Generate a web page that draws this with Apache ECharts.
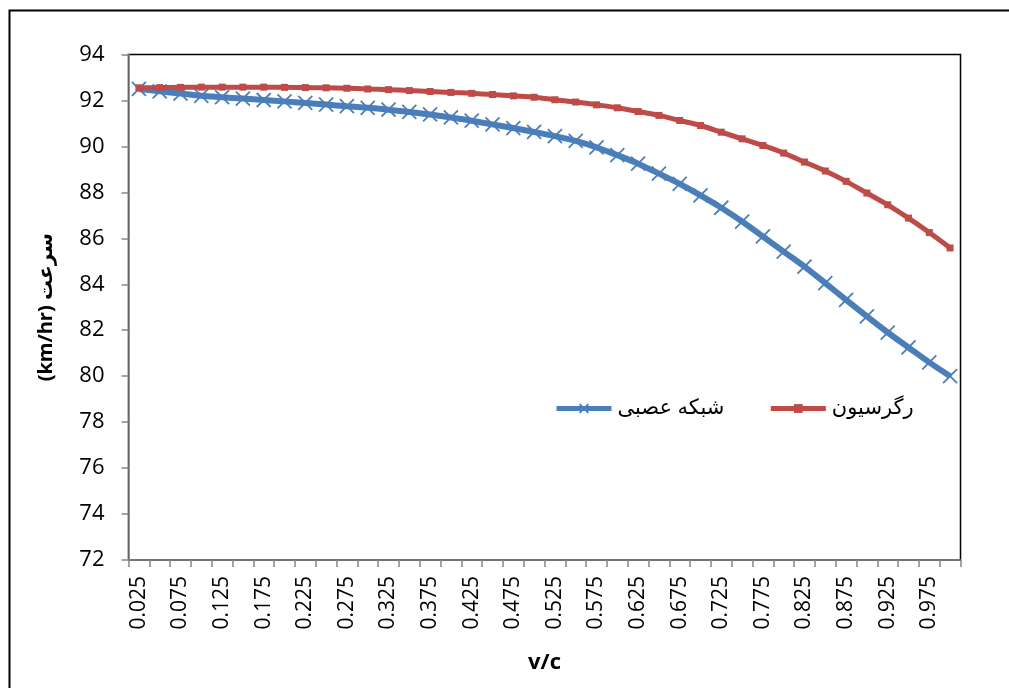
<!DOCTYPE html>
<html>
<head>
<meta charset="utf-8">
<script src="https://cdn.jsdelivr.net/npm/echarts@6/dist/echarts.min.js"></script>
<style>html,body{margin:0;padding:0;background:#fff}#c{width:1009px;height:688px}</style>
</head>
<body>
<div id="c"></div>
<script>
const categories = ['0.025','0.05','0.075','0.1','0.125','0.15','0.175','0.2','0.225','0.25','0.275','0.3','0.325','0.35','0.375','0.4','0.425','0.45','0.475','0.5','0.525','0.55','0.575','0.6','0.625','0.65','0.675','0.7','0.725','0.75','0.775','0.8','0.825','0.85','0.875','0.9','0.925','0.95','0.975','1'];
const neuralNet = [92.5,92.4,92.3,92.2,92.14,92.08,92.02,91.96,91.89,91.82,91.75,91.68,91.6,91.5,91.39,91.26,91.12,90.96,90.8,90.63,90.45,90.24,89.96,89.62,89.25,88.82,88.37,87.87,87.33,86.73,86.08,85.42,84.77,84.05,83.32,82.6,81.9,81.25,80.6,80.0];
const regression = [92.55,92.56,92.57,92.58,92.58,92.58,92.58,92.57,92.56,92.55,92.53,92.5,92.47,92.43,92.39,92.35,92.31,92.26,92.2,92.14,92.03,91.93,91.81,91.68,91.52,91.35,91.13,90.91,90.62,90.33,90.04,89.71,89.32,88.93,88.48,87.97,87.46,86.88,86.25,85.58];
const seriesNames = ['شبکه عصبی','رگرسیون'];
const yMin = 72, yMax = 94, yStep = 2;

const FONT = '"Open Sans", "DejaVu Sans", sans-serif';
const chart = echarts.init(document.getElementById('c'), null, {renderer:'canvas'});
chart.setOption({
  animation:false,
  backgroundColor:'#fff',
  graphic:[
    {type:'rect', shape:{x:9.5,y:10.5,width:1010,height:700}, style:{fill:'none',stroke:'#000',lineWidth:2}, z:-1},
    {type:'rect', shape:{x:128.5,y:54.5,width:832,height:505.5}, style:{fill:'none',stroke:'#000',lineWidth:1.5}, z:-1}
  ],
  grid:{left:128.5,top:54.5,right:48.5,bottom:128,containLabel:false},
  legend:{
    data:seriesNames,
    left:549, top:393,
    itemWidth:55, itemHeight:11, itemGap:44,
    lineStyle:{width:5},
    textStyle:{fontFamily:FONT,fontSize:21,color:'#000',padding:[0,0,0,1]}
  },
  xAxis:{
    type:'category', data:categories, boundaryGap:true,
    name:'v/c', nameLocation:'middle', nameGap:92,
    nameTextStyle:{fontFamily:FONT,fontSize:22,fontWeight:'bold',color:'#000'},
    axisLine:{lineStyle:{color:'#868686',width:1.5}},
    axisTick:{show:true,interval:0,length:7,lineStyle:{color:'#868686',width:1.5}},
    axisLabel:{interval:1,rotate:90,fontFamily:FONT,fontSize:21,color:'#000',margin:16}
  },
  yAxis:{
    type:'value', min:yMin, max:yMax, interval:yStep,
    name:'(km/hr) سرعت', nameLocation:'middle', nameGap:72, nameRotate:90,
    nameTextStyle:{fontFamily:FONT,fontSize:20,fontWeight:'bold',color:'#000'},
    axisLine:{show:true,lineStyle:{color:'#868686',width:1.5}},
    axisTick:{show:true,length:7,lineStyle:{color:'#868686',width:1.5}},
    splitLine:{show:false},
    axisLabel:{fontFamily:FONT,fontSize:22,color:'#000',margin:24}
  },
  series:[
    {name:seriesNames[0], type:'line', data:neuralNet, smooth:0.3, showAllSymbol:true,
     symbol:'path://M0,0L10,10M10,0L0,10', symbolSize:14,
     lineStyle:{color:'#4a7ebb',width:6},
     itemStyle:{color:'#4a7ebb',borderColor:'#4a7ebb',borderWidth:1.8}, z:2},
    {name:seriesNames[1], type:'line', data:regression, smooth:0.3, showAllSymbol:true,
     symbol:'rect', symbolSize:7,
     lineStyle:{color:'#be4b48',width:5},
     itemStyle:{color:'#be4b48'}, z:3}
  ]
});
</script>
</body>
</html>
